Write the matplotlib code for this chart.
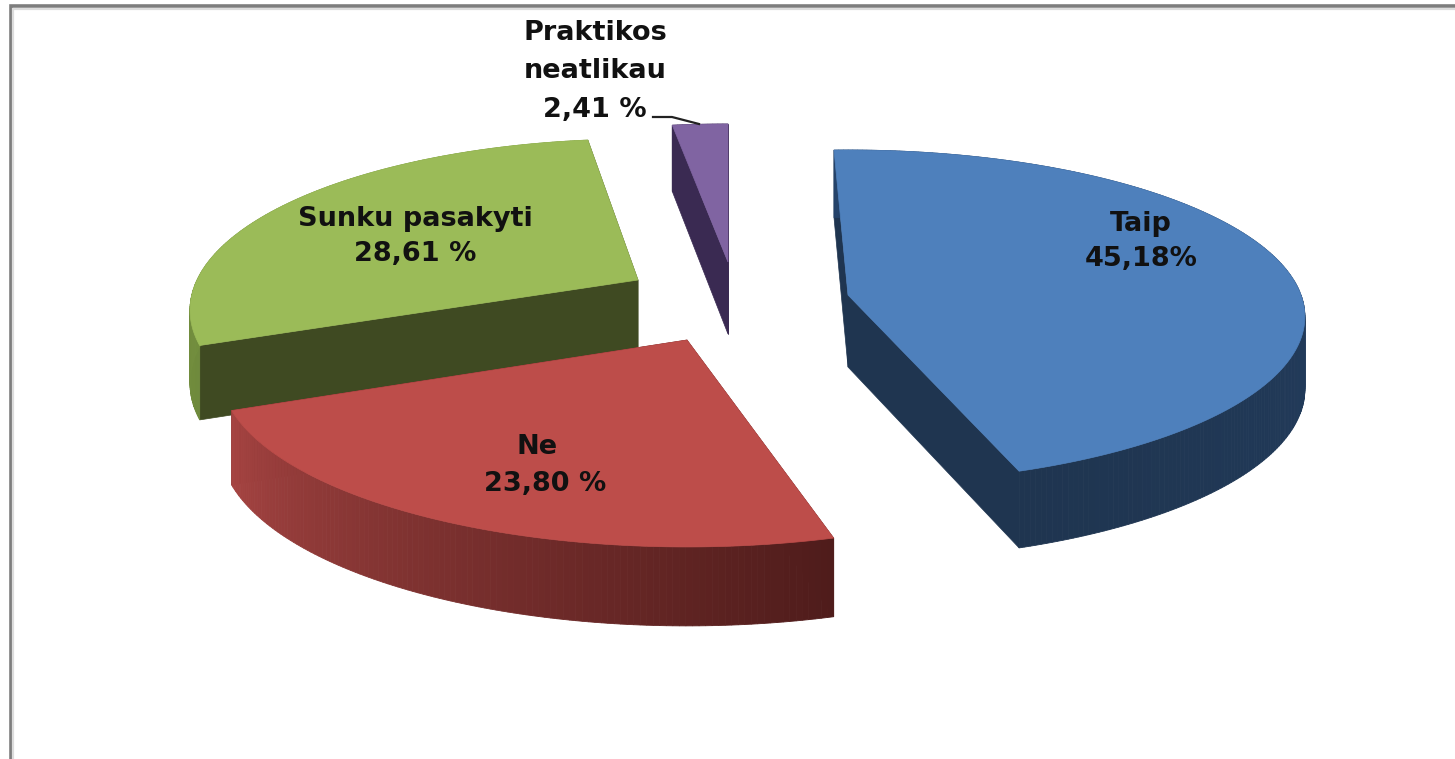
import numpy as np
import matplotlib
matplotlib.use("Agg")
import matplotlib.pyplot as plt
from matplotlib.patches import Polygon
from matplotlib.colors import to_rgb

# --- data ---
categories = ["Taip", "Ne", "Sunku pasakyti", "Praktikos\nneatlikau"]
values = [45.18, 23.80, 28.61, 2.41]
value_labels = ["45,18%", "23,80 %", "28,61 %", "2,41 %"]

# --- style / layout ---
top_colors = ["#4e80bc", "#bd4d4a", "#9bbb58", "#8064a2"]
cut_colors = ["#1f3550", "#5a211f", "#3f4a22", "#3a2a52"]
rim_from = ["#25436a", "#4f1c1b", "#6f8a3c", "#3a2a52"]
rim_to = ["#1f3550", "#a64442", "#7f9c45", "#3a2a52"]
explode_px = [(103, 3), (-58, 48), (-107, -12), (-17, -30)]   # explosion of each slice from the pie centre
radius = [453, 460, 441, 460]
persp = [0.13, 0.176, 0.176, 0.176]
back_height = [145, 145, 141, 138]
nudge_start = [-1.0, 3.0, 1.0, 1.5]    # small angular corrections of the 3D view, degrees
nudge_end = [-1.0, 0.0, 2.0, 1.0]
draw_order = [0, 3, 2, 1]
CX, CY = 745, 292
DEPTH = 72
ROT = -1.0


def project(t, r, k, b):
    u, v = np.sin(t), np.cos(t)
    w = 1 + k * v
    a = b * (1 + k)
    return r * u / w, -a * v / w, DEPTH / (1 + 0.5 * k * v)


def mix(a, b, f):
    a, b = np.array(to_rgb(a)), np.array(to_rgb(b))
    return tuple(a + (b - a) * f)


fig = plt.figure(figsize=(14.55, 7.59), dpi=100)
ax = fig.add_axes([0, 0, 1, 1])
ax.set_xlim(0, 1455)
ax.set_ylim(759, 0)
ax.axis("off")

# frame
ax.plot([10.5, 10.5, 1455], [759, 6, 6], color="#7d7d7d", lw=2.6, solid_joinstyle="miter", zorder=1)
ax.plot([13, 13, 1455], [759, 8.5, 8.5], color="#dcdcdc", lw=1.6, solid_joinstyle="miter", zorder=1)

deg_edges = ROT + np.concatenate([[0], np.cumsum(values)]) * 3.6
z = 2
for i in draw_order:
    t0 = np.radians(deg_edges[i] + nudge_start[i])
    t1 = np.radians(deg_edges[i + 1] + nudge_end[i])
    ax_, ay_ = CX + explode_px[i][0], CY + explode_px[i][1]
    ts = np.linspace(t0, t1, max(8, int(np.degrees(t1 - t0) * 1.5)))
    px, py, pd = project(ts, radius[i], persp[i], back_height[i])
    px, py = px + ax_, py + ay_

    # cut faces
    for j in (0, -1):
        quad = [(ax_, ay_), (px[j], py[j]), (px[j], py[j] + pd[j]), (ax_, ay_ + DEPTH)]
        ax.add_patch(Polygon(quad, closed=True, fc=cut_colors[i], ec=cut_colors[i], lw=0.5, zorder=z))
    z += 1
    # rim with gradient
    for k in range(len(ts) - 1):
        f = k / max(1, len(ts) - 2)
        c = mix(rim_from[i], rim_to[i], f)
        quad = [(px[k], py[k]), (px[k + 1], py[k + 1]),
                (px[k + 1], py[k + 1] + pd[k + 1]), (px[k], py[k] + pd[k])]
        ax.add_patch(Polygon(quad, closed=True, fc=c, ec=c, lw=0.6, zorder=z))
    z += 1
    # top
    top = np.column_stack([np.r_[ax_, px], np.r_[ay_, py]])
    ax.add_patch(Polygon(top, closed=True, fc=top_colors[i], ec=top_colors[i], lw=0.5, zorder=z))
    z += 1

# labels
font = dict(family="DejaVu Sans", fontweight="bold", color="#111111", fontsize=19.5, ha="center", va="center", zorder=50)
label_pos = [(1141, 224), (537, 447), (415, 219), (595, 52)]
pct_pos = [(1141, 259), (545, 484), (415, 254), (595, 110)]
for i, name in enumerate(categories):
    ax.text(*label_pos[i], name, linespacing=1.55, **font)
    ax.text(*pct_pos[i], value_labels[i], **font)

# leader line
ax.plot([653, 672, 699], [117, 117, 124], color="#222222", lw=1.6, zorder=49)

fig.savefig("out.png", dpi=100, facecolor="white")
